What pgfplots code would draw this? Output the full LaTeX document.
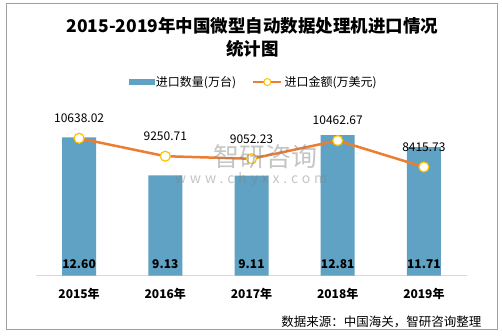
\documentclass[border=0pt]{standalone}
\usepackage{pgfplots}
\pgfplotsset{compat=1.18}
\usepackage{pgfplotstable}
\usepackage{fontspec}
\setmainfont{Noto Sans CJK SC}
\newfontfamily\wmfont[LetterSpace=28]{Noto Sans CJK SC}
\definecolor{barblue}{RGB}{95,162,196}
\definecolor{lineor}{RGB}{237,125,49}
\definecolor{markyel}{RGB}{255,192,0}
\pgfplotstableread{
x qty qlbl amt albl
0 12.60 12.60 10638.02 10638.02
1 9.13 9.13 9250.71 9250.71
2 9.11 9.11 9052.23 9052.23
3 12.81 12.81 10462.67 10462.67
4 11.71 11.71 8415.73 8415.73
}\data
\begin{document}
\begin{tikzpicture}[x=1pt,y=1pt]
\useasboundingbox (0,0) rectangle (502,336);
\fill[white] (0,0) rectangle (502,336);
\draw[gray!75, line width=1pt] (6,332) rectangle (497,6);
\node[font=\bfseries\fontsize{17.5}{20}\selectfont] at (252.5,310) {2015-2019年中国微型自动数据处理机进口情况};
\node[font=\bfseries\fontsize{17.5}{20}\selectfont] at (252.5,287.5) {统计图};
\begin{axis}[
  at={(36pt,60.3pt)}, anchor=south west, scale only axis,
  width=431pt, height=153.7pt,
  xmin=-0.5, xmax=4.5, ymin=0, ymax=14,
  axis y line=none, axis x line*=bottom,
  x axis line style={draw=black!15, line width=1pt, -},
  xtick={0,1,2,3,4},
  xticklabels={2015年,2016年,2017年,2018年,2019年},
  major tick length=0pt,
  xticklabel style={font=\bfseries\fontsize{12}{12}\selectfont, yshift=-9pt},
  clip=false,
]
\addplot[ybar, bar width=34pt, fill=barblue, draw=none] table[x=x, y=qty] {\data};
\addplot[draw=none, mark=none, nodes near coords, point meta=explicit symbolic,
  every node near coord/.append style={anchor=center, yshift=11.4pt, font=\bfseries\fontsize{12}{12}\selectfont, text=black}]
  table[x=x, y expr=0, meta=qlbl] {\data};
\end{axis}
\begin{axis}[
  at={(36pt,60.3pt)}, anchor=south west, scale only axis,
  width=431pt, height=153.7pt,
  xmin=-0.5, xmax=4.5, ymin=0, ymax=11900,
  hide axis, clip=false,
  legend columns=2,
  legend style={at={(0.505,1.26)}, anchor=center, draw=none, fill=none,
    font=\fontsize{12}{12}\selectfont,
    /tikz/every even column/.append style={column sep=14pt}},
]
\addlegendimage{legend image code/.code={\fill[barblue] (0pt,-2.5pt) rectangle (25pt,2.5pt);}}
\addlegendentry{进口数量(万台)}
\addplot[color=lineor, line width=2.5pt, mark=*, mark size=5pt,
  mark options={fill=white, draw=markyel, line width=1.2pt},
  nodes near coords, point meta=explicit symbolic,
  every node near coord/.append style={anchor=center, yshift=20pt, font=\fontsize{12}{12}\selectfont, text=black},
  legend image code/.code={
    \draw[line width=2.5pt, lineor] (0pt,0pt) -- (28pt,0pt);
    \draw[fill=white, draw=markyel, line width=1pt] (14pt,0pt) circle (3.5pt);}
  ] table[x=x, y=amt, meta=albl] {\data};
\addlegendentry{进口金额(万美元)}
\end{axis}
\node[text=gray, opacity=0.45, font=\fontsize{26}{26}\selectfont] at (265,179) {智研咨询};
\node[text=gray, opacity=0.45, font=\wmfont\fontsize{14}{14}\selectfont] at (251,156) {www.chyxx.com};
\node[anchor=east, font=\fontsize{12.5}{12.5}\selectfont] at (485,14.3) {数据来源：中国海关，智研咨询整理};
\end{tikzpicture}
\end{document}
